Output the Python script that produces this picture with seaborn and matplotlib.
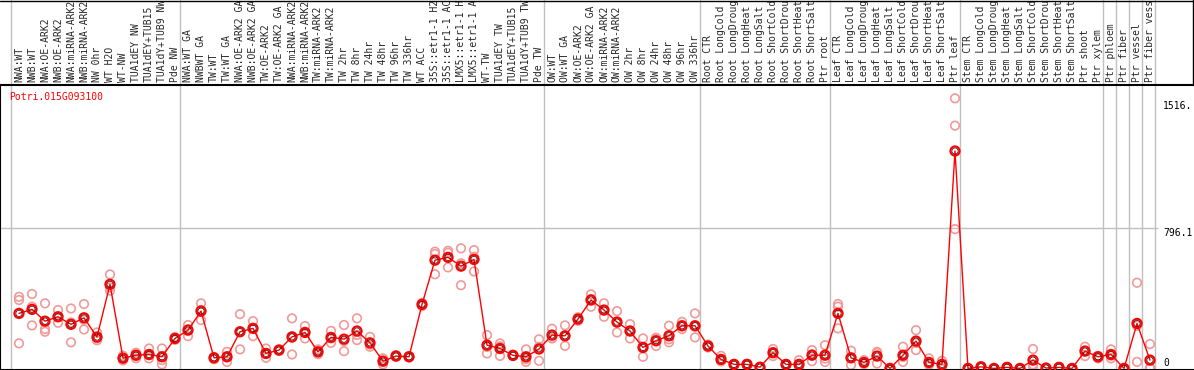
import numpy as np
import pandas as pd
import matplotlib
matplotlib.use("Agg")
import matplotlib.pyplot as plt
import seaborn as sns

gene = "Potri.015G093100"

# column labels as they appear (header cuts them at ~14 characters)
labels = [
    "NWA:WT", "NWB:WT", "NWA:OE-ARK2", "NWB:OE-ARK2", "NWA:miRNA-ARK2", "NWB:miRNA-ARK2",
    "NW 0hr", "WT H2O", "WT-NW", "TUA1dEY NW", "TUA1dEY+TUB15", "TUA1dY+TUB9 NW", "Pde NW",
    "NWA:WT GA", "NWBWT GA", "TW:WT", "TW:WT GA", "NWA:OE-ARK2 GA", "NWB:OE-ARK2 GA",
    "TW:OE-ARK2", "TW:OE-ARK2 GA", "NWA:miRNA-ARK2", "NWB:miRNA-ARK2", "TW:miRNA-ARK2",
    "TW:miRNA-ARK2", "TW 2hr", "TW 8hr", "TW 24hr", "TW 48hr", "TW 96hr", "TW 336hr",
    "WT ACC", "35S::etr1-1 H2", "35S::etr1-1 AC", "LMX5::etr1-1 H", "LMX5::etr1-1 A",
    "WT-TW", "TUA1dEY TW", "TUA1dEY+TUB15", "TUA1dY+TUB9 TW", "Pde TW",
    "OW:WT", "OW:WT GA", "OW:OE-ARK2", "OW:OE-ARK2 GA", "OW:miRNA-ARK2", "OW:miRNA-ARK2",
    "OW 2hr", "OW 8hr", "OW 24hr", "OW 48hr", "OW 96hr", "OW 336hr",
    "Root CTR", "Root LongCold", "Root LongDroug", "Root LongHeat", "Root LongSalt",
    "Root ShortCold", "Root ShortDrou", "Root ShortHeat", "Root ShortSalt", "Ptr root",
    "Leaf CTR", "Leaf LongCold", "Leaf LongDroug", "Leaf LongHeat", "Leaf LongSalt",
    "Leaf ShortCold", "Leaf ShortDrou", "Leaf ShortHeat", "Leaf ShortSalt", "Ptr leaf",
    "Stem CTR", "Stem LongCold", "Stem LongDroug", "Stem LongHeat", "Stem LongSalt",
    "Stem ShortCold", "Stem ShortDrou", "Stem ShortHeat", "Stem ShortSalt", "Ptr shoot",
    "Ptr xylem", "Ptr phloem", "Ptr fiber", "Ptr vessel", "Ptr fiber vess",
]

# first column index of each sample group (group separators)
group_starts = [0, 13, 41, 53, 63, 73, 84, 85, 86, 87, 88]

means = [
    312, 335, 268, 293, 250, 287, 178, 477, 58, 75, 79, 66, 170,
    217, 325, 60, 66, 208, 227, 85, 104, 179, 204, 94, 176, 166, 212, 145, 41, 70, 66,
    363, 614, 630, 580, 618, 132, 113, 74, 66, 110,
    189, 185, 280, 388, 331, 263, 212, 119, 157, 185, 242, 242,
    127, 51, 23, 23, 7, 89, 23, 23, 75, 75,
    312, 60, 34, 70, 0, 75, 155, 34, 23, 1233,
    0, 9, 0, 6, 0, 47, 2, 6, 0, 98, 66,
    79, 0, 255, 47,
]

rep1 = [
    406, 422, 369, 331, 340, 365, 204, 533, 72, 89, 113, 113, 178,
    246, 369, 65, 94, 308, 268, 113, 100, 284, 240, 108, 213, 246, 284, 179, 57, 75, 70,
    372, 662, 667, 681, 671, 189, 142, 77, 108, 165,
    225, 244, 290, 420, 369, 325, 251, 170, 170, 242, 264, 312,
    135, 71, 25, 25, 7, 110, 25, 47, 104, 132,
    365, 100, 47, 94, 0, 123, 217, 57, 43, 1532,
    0, 12, 0, 8, 0, 110, 3, 8, 0, 123, 57,
    108, 0, 486, 138,
]
rep2 = [
    388, 350, 223, 259, 148, 221, 170, 460, 58, 70, 75, 47, 170,
    183, 274, 60, 37, 108, 183, 60, 104, 79, 170, 81, 145, 98, 161, 123, 23, 68, 64,
    353, 649, 656, 596, 633, 85, 71, 74, 37, 43,
    170, 128, 280, 350, 293, 204, 170, 66, 127, 148, 223, 176,
    127, 41, 23, 22, 7, 70, 23, 11, 41, 37,
    350, 19, 30, 28, 0, 37, 104, 25, 15, 1377,
    0, 9, 0, 6, 0, 9, 2, 6, 0, 70, 70,
    57, 0, 37, 0,
]
rep3 = [
    142, 244, 208, 291, 261, 275, 160, 441, 45, 57, 57, 23, 162,
    222, 332, 52, 66, 208, 230, 82, 108, 174, 203, 94, 170, 155, 190, 135, 43, 67, 64,
    364, 534, 573, 472, 550, 122, 126, 70, 53, 122,
    172, 183, 270, 394, 331, 260, 215, 121, 174, 165, 239, 238,
    119, 41, 21, 22, 7, 87, 21, 11, 80, 56,
    227, 61, 25, 88, 0, 65, 144, 20, 11, 790,
    0, 6, 0, 4, 0, 23, 1, 4, 0, 101, 71,
    72, 0, 242, 3,
]

ytick_values = [1516, 796.1, 0]
ytick_labels = ["1516.", "796.1", "0"]

# ---------------------------------------------------------------
W, H, DPI = 1194, 370, 100
HEADER = 85  # px height of label header
n = len(labels)
pos = np.arange(n)

df_mean = pd.DataFrame({"pos": pos, "value": means})
df_rep = pd.DataFrame({
    "pos": np.concatenate([pos, pos, pos]),
    "value": np.concatenate([rep1, rep2, rep3]),
})

sns.set_style("white")
plt.rcParams["font.family"] = ["DejaVu Sans Mono", "DejaVu Sans"]
mono = "DejaVu Sans Mono"
FS = 7.0

fig = plt.figure(figsize=(W / DPI, H / DPI), dpi=DPI)
ax = fig.add_axes([0, 0, 1, (H - HEADER) / H])

# column pixel mapping: x_px = 19 + 13 * index
x0_px, step_px = 19.0, 13.0
ax.set_xlim(-x0_px / step_px, (W - x0_px) / step_px)
ax.set_ylim(-9, 1607.5)

# grid: group separators (span header too)
top_frac = H / (H - HEADER)
for g in group_starts:
    ax.axvline(g - 0.5 - 0.12, ymin=0, ymax=top_frac, color="#c0c0c0",
               lw=1.0, clip_on=False, zorder=0)
ax.hlines(796.1, ax.get_xlim()[0], (1158 - x0_px) / step_px, color="#c0c0c0",
          lw=1.0, zorder=0)

sns.scatterplot(data=df_rep, x="pos", y="value", ax=ax, marker="o", s=38,
                facecolor="none", edgecolor="#f09a9a", linewidth=1.2,
                zorder=2, legend=False)
sns.lineplot(data=df_mean, x="pos", y="value", ax=ax, color="#ff0000", lw=1.0,
             sort=True, zorder=3, legend=False)
sns.scatterplot(data=df_mean, x="pos", y="value", ax=ax, marker="o", s=44,
                facecolor="none", edgecolor="#ff0000", linewidth=1.5,
                zorder=4, legend=False)
sns.scatterplot(data=df_mean, x="pos", y="value", ax=ax, marker="o", s=20,
                facecolor="none", edgecolor="#300000", linewidth=0.5,
                zorder=5, legend=False)

# column labels in header
ax.xaxis.tick_top()
ax.set_xticks(pos)
ax.set_xticklabels(labels, rotation=90, fontsize=FS, fontfamily=mono)
ax.tick_params(axis="x", length=0, pad=2)
ax.set_yticks([])
ax.set_xlabel("")
ax.set_ylabel("")

# value labels on the right
for v, t in zip(ytick_values, ytick_labels):
    va = "bottom" if v == 0 else "top"
    ax.text((1163 - x0_px) / step_px, v, t, fontsize=FS, fontfamily=mono,
            ha="left", va=va, color="black")

# gene name
fig.text(9 / W, 1 - 97 / H, gene, color="#ff0000", fontsize=FS,
         fontfamily=mono, ha="left", va="center")

for side in ["left", "top", "bottom"]:
    ax.spines[side].set_visible(True)
    ax.spines[side].set_color("black")
    ax.spines[side].set_linewidth(1.5)
ax.spines["right"].set_visible(False)

# header frame
fig.add_artist(plt.Line2D([0, 1], [1 - 0.5 / H, 1 - 0.5 / H], color="black",
                          lw=1.0, transform=fig.transFigure))
fig.add_artist(plt.Line2D([1 - 0.8 / W, 1 - 0.8 / W], [1, 1 - HEADER / H],
                          color="black", lw=1.0, transform=fig.transFigure))

fig.savefig("out.png", dpi=DPI)
